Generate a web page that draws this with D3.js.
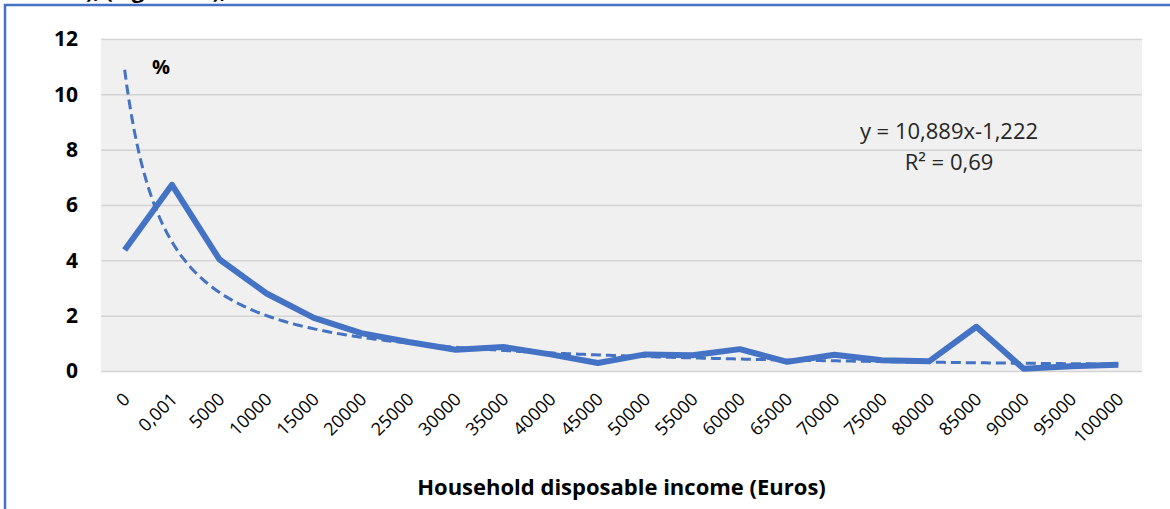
<!DOCTYPE html>
<html>
<head>
<meta charset="utf-8">
<script src="https://cdn.jsdelivr.net/npm/d3@7"></script>
<style>
  body { margin: 0; background: #fff; }
  svg { display: block; font-family: "Open Sans", Lato, sans-serif; }
</style>
</head>
<body>
<div id="chart"></div>
<script>

// categories on the x axis (income brackets)
var categories = ["0", "0,001", "5000", "10000", "15000", "20000", "25000", "30000", "35000",
  "40000", "45000", "50000", "55000", "60000", "65000", "70000", "75000", "80000",
  "85000", "90000", "95000", "100000"];

// share of households, %
var shares = [4.37, 6.73, 4.04, 2.8, 1.92, 1.37, 1.05, 0.77, 0.87, 0.6, 0.29,
  0.6, 0.57, 0.79, 0.33, 0.59, 0.39, 0.35, 1.6, 0.08, 0.17, 0.23];

var yTicks = [0, 2, 4, 6, 8, 10, 12];

// power trendline as printed on the chart: y = a * x^b
var trendA = 10.889, trendB = -1.222;
var trendLabel = "y = 10,889x-1,222";
var r2Label = "R² = 0,69";

var width = 1170, height = 509;
var plot = { left: 101, right: 1142, top: 39, bottom: 371 };
var blue = "#4472C4";
var font = "'Open Sans', Lato, sans-serif";

var svg = d3.select("#chart").append("svg")
  .attr("width", width)
  .attr("height", height);

// cut-off line of text above the frame
svg.append("text")
  .attr("x", 86).attr("y", -2)
  .style("font-size", "22px").style("font-weight", "bold")
  .text("), (Figure 14),");

// blue frame
svg.append("line").attr("x1", 4).attr("x2", width).attr("y1", 5).attr("y2", 5)
  .attr("stroke", blue).attr("stroke-width", 2.5);
svg.append("line").attr("x1", 5).attr("x2", 5).attr("y1", 4).attr("y2", height)
  .attr("stroke", blue).attr("stroke-width", 2.5);

var x = d3.scaleBand().domain(categories).range([plot.left, plot.right]).padding(0);
var xi = d3.scaleLinear().domain([0, categories.length]).range([plot.left, plot.right]);
var y = d3.scaleLinear().domain([0, 12]).range([plot.bottom, plot.top]);

// plot background
svg.append("rect")
  .attr("x", plot.left).attr("y", plot.top)
  .attr("width", plot.right - plot.left).attr("height", plot.bottom - plot.top)
  .attr("fill", "#f0f0f0");

// gridlines
var grid = svg.append("g")
  .attr("transform", "translate(" + plot.left + ",0)")
  .call(d3.axisLeft(y).tickValues(yTicks).tickSize(-(plot.right - plot.left)).tickFormat(""));
grid.select(".domain").remove();
grid.selectAll("line").attr("stroke", "#d3d3d3").attr("stroke-width", 1.5);

// y axis labels
var yAxis = svg.append("g")
  .attr("transform", "translate(" + 78 + ",0)")
  .call(d3.axisLeft(y).tickValues(yTicks).tickSize(0).tickPadding(0));
yAxis.select(".domain").remove();
yAxis.selectAll("text")
  .attr("fill", "#000")
  .style("font-size", "21px").style("font-weight", "bold")
  .style("font-family", font);

// x axis labels, rotated
var xAxis = svg.append("g")
  .attr("transform", "translate(0," + (plot.bottom + 14) + ")")
  .call(d3.axisBottom(x).tickSize(0).tickPadding(0));
xAxis.select(".domain").remove();
xAxis.selectAll("text")
  .attr("fill", "#000")
  .attr("text-anchor", "end")
  .attr("dy", "0.35em")
  .attr("transform", "translate(2,11) rotate(-45)")
  .style("font-size", "18px")
  .style("font-family", font);

// trendline (dashed)
var trendPts = d3.range(1, categories.length + 0.001, 0.05);
var trendLine = d3.line()
  .x(function(t) { return xi(t - 0.5); })
  .y(function(t) { return y(trendA * Math.pow(t, trendB)); });
svg.append("path")
  .datum(trendPts)
  .attr("d", trendLine)
  .attr("fill", "none")
  .attr("stroke", blue)
  .attr("stroke-width", 3)
  .attr("stroke-dasharray", "10,5");

// data line
var line = d3.line()
  .x(function(d, i) { return x(categories[i]) + x.bandwidth() / 2; })
  .y(function(d) { return y(d); });
svg.append("path")
  .datum(shares)
  .attr("d", line)
  .attr("fill", "none")
  .attr("stroke", blue)
  .attr("stroke-width", 6)
  .attr("stroke-linejoin", "round");

// % unit label
svg.append("text")
  .attr("x", 152).attr("y", 74)
  .style("font-size", "20px").style("font-weight", "bold")
  .text("%");

// trendline equation
svg.append("text")
  .attr("x", 949).attr("y", 139)
  .attr("text-anchor", "middle")
  .style("font-size", "22px").attr("fill", "#262626")
  .text(trendLabel);
svg.append("text")
  .attr("x", 949).attr("y", 170)
  .attr("text-anchor", "middle")
  .style("font-size", "22px").attr("fill", "#262626")
  .text(r2Label);

// x axis title
svg.append("text")
  .attr("x", (plot.left + plot.right) / 2).attr("y", 495)
  .attr("text-anchor", "middle")
  .style("font-size", "22px").style("font-weight", "bold")
  .text("Household disposable income (Euros)");

</script>
</body>
</html>
